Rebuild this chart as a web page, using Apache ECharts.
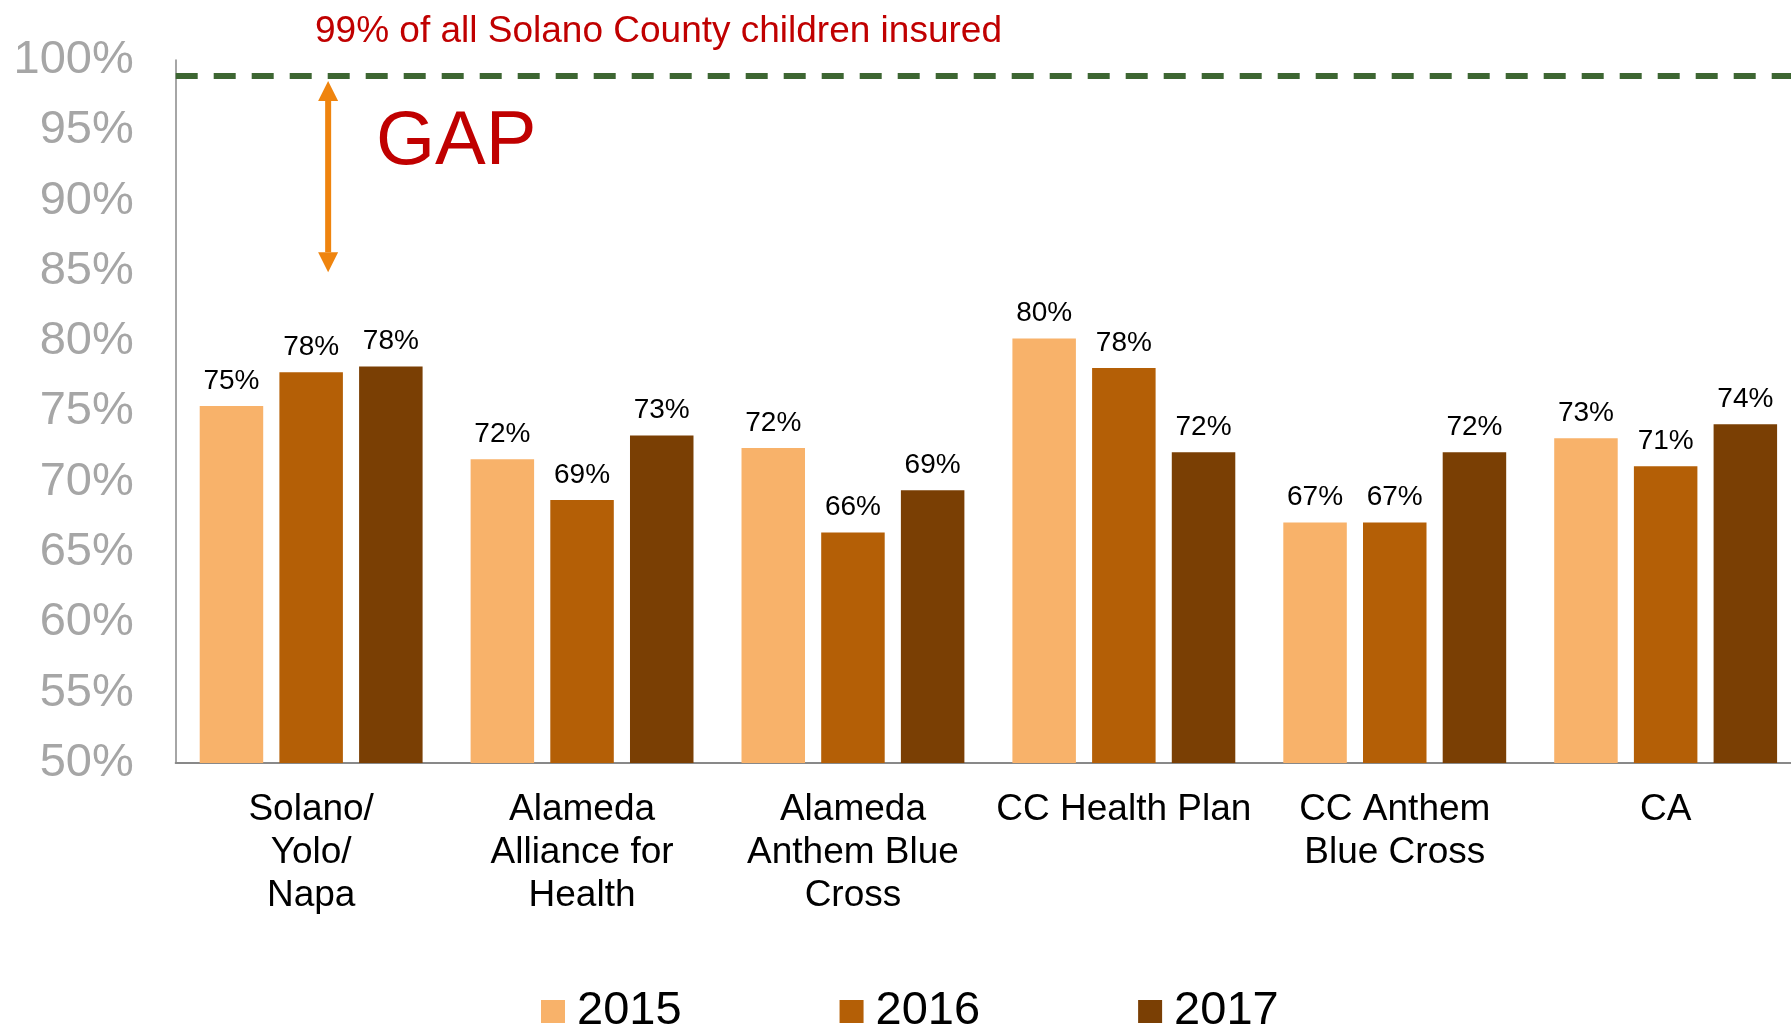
<!DOCTYPE html>
<html>
<head>
<meta charset="utf-8">
<script src="https://cdn.jsdelivr.net/npm/echarts@6/dist/echarts.min.js"></script>
<style>
  html, body { margin: 0; padding: 0; background: #fff; overflow: hidden; }
  #chart { width: 1812px; height: 1030px; }
</style>
</head>
<body>
<div id="chart"></div>
<script>
  const categories = [
    "Solano/\nYolo/\nNapa",
    "Alameda\nAlliance for\nHealth",
    "Alameda\nAnthem Blue\nCross",
    "CC Health Plan",
    "CC Anthem\nBlue Cross",
    "CA",
  ];
  const years = ["2015", "2016", "2017"];
  const values2015 = [75.4, 71.6, 72.4, 80.2, 67.1, 73.1];
  const values2016 = [77.8, 68.7, 66.4, 78.1, 67.1, 71.1];
  const values2017 = [78.2, 73.3, 69.4, 72.1, 72.1, 74.1];
  const colors = ["#F8B26A", "#B45F06", "#7A3F04"];
  const targetLevel = 98.85;
  const gapTop = 98.5;
  const gapBottom = 84.9;

  const font = "'Liberation Sans', Arial, sans-serif";
  const chart = echarts.init(document.getElementById("chart"));

  const makeSeries = (name, data, color, extra) => {
    return Object.assign({
      name: name,
      type: "bar",
      data: data,
      barWidth: 63.5,
      barGap: "25.5%",
      itemStyle: { color: color },
      label: {
        show: true,
        position: "top",
        distance: 11,
        color: "#000",
        fontFamily: font,
        fontSize: 28,
        formatter: (p) => Math.round(p.value) + "%",
      },
    }, extra || {});
  };

  // the plot runs a little past the right edge of the window, so the div is wider
  const option = {
    animation: false,
    backgroundColor: "#fff",
    grid: { left: 175.7, right: 10.9, top: 60, bottom: 267, containLabel: false },
    legend: {
      data: years,
      left: 541,
      top: 988,
      padding: 0,
      icon: "rect",
      itemWidth: 24,
      itemHeight: 23,
      itemGap: 158,
      textStyle: { fontFamily: font, fontSize: 47, color: "#000", padding: [0, 0, 0, 7] },
    },
    xAxis: {
      type: "category",
      data: categories,
      axisLine: { lineStyle: { color: "#898989", width: 2 } },
      axisTick: { show: false },
      axisLabel: {
        interval: 0,
        margin: 25,
        color: "#000",
        fontFamily: font,
        fontSize: 37,
        lineHeight: 43,
      },
    },
    yAxis: {
      type: "value",
      min: 50,
      max: 100,
      interval: 5,
      splitLine: { show: false },
      axisTick: { show: false },
      axisLine: { show: true, lineStyle: { color: "#898989", width: 1.5 } },
      axisLabel: {
        margin: 42,
        color: "#A6A6A6",
        fontFamily: font,
        fontSize: 47,
        formatter: "{value}%",
      },
    },
    series: [
      makeSeries(years[0], values2015, colors[0], {
        markLine: {
          silent: true,
          symbol: "none",
          label: { show: false },
          lineStyle: { color: "#3D6632", width: 6, type: [22, 16] },
          data: [{ yAxis: targetLevel }],
        },
      }),
      makeSeries(years[1], values2016, colors[1]),
      makeSeries(years[2], values2017, colors[2]),
    ],
  };

  chart.setOption(option);

  // annotations: target caption, GAP arrow and text
  const arrowX = chart.convertToPixel({ xAxisIndex: 0 }, categories[0]) + 17;
  const yTop = chart.convertToPixel({ yAxisIndex: 0 }, gapTop);
  const yBot = chart.convertToPixel({ yAxisIndex: 0 }, gapBottom);
  const orange = "#EF840E";
  const head = 20;

  chart.setOption({
    graphic: [
      {
        type: "text",
        left: 315,
        top: 13,
        style: {
          text: "99% of all Solano County children insured",
          fill: "#C00000",
          font: "37px " + font,
        },
      },
      {
        type: "text",
        left: 376,
        top: 105,
        style: { text: "GAP", fill: "#C00000", font: "76px " + font },
      },
      {
        type: "line",
        shape: { x1: arrowX, y1: yTop + head, x2: arrowX, y2: yBot - head },
        style: { stroke: orange, lineWidth: 6 },
      },
      {
        type: "polygon",
        shape: { points: [[arrowX, yTop], [arrowX - 10, yTop + head], [arrowX + 10, yTop + head]] },
        style: { fill: orange },
      },
      {
        type: "polygon",
        shape: { points: [[arrowX, yBot], [arrowX - 10, yBot - head], [arrowX + 10, yBot - head]] },
        style: { fill: orange },
      },
    ],
  });
</script>
</body>
</html>
